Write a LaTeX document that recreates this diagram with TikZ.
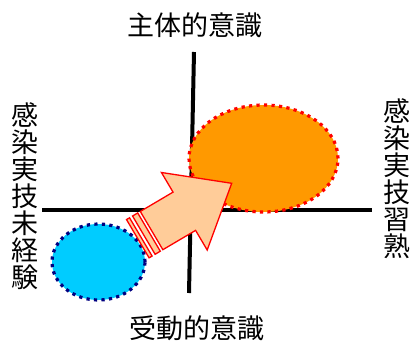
\documentclass[tikz,border=0pt]{standalone}
\usepackage{fontspec}
\usetikzlibrary{shapes.geometric}
\newfontfamily\cjk{Noto Sans CJK JP}
\definecolor{orangefill}{RGB}{255,153,0}
\definecolor{cyanfill}{RGB}{0,204,255}
\definecolor{navydot}{RGB}{0,0,128}
\definecolor{peach}{RGB}{255,204,153}
\tikzset{
  axisline/.style={line width=4pt},
  lbl/.style={font=\cjk\fontsize{27}{27}\selectfont, inner sep=0pt, anchor=center},
  dotborder/.style={line width=3.2pt, dash pattern=on 3.2pt off 4.3pt},
  blob/.style={ellipse, inner sep=0pt, dotborder},
  arrowpart/.style={draw=red, fill=peach, line width=1.3pt, line join=miter}
}
\begin{document}
\begin{tikzpicture}[x=1pt,y=-1pt]
\useasboundingbox (0,0) rectangle (410,341);
% axes
\coordinate (vtop) at (194,52);
\coordinate (vbot) at (189,293);
\coordinate (hl) at (42,209.7);
\coordinate (hr) at (372,209.7);
\draw[axisline] (vtop) -- (vbot);
\draw[axisline] (hl) -- (hr);
% labels
\node[lbl] (top) at (195,25) {主体的意識};
\node[lbl] (bot) at (197,328) {受動的意識};
\node[lbl, align=center] (left) at (24.5,196.5) {\baselineskip=28.7pt 感\\染\\実\\技\\未\\経\\験};
\node[lbl, align=center] (right) at (397,178.6) {\baselineskip=28.7pt 感\\染\\実\\技\\習\\熟};
% ellipses
\node[blob, draw=red, fill=orangefill, minimum width=149pt, minimum height=107pt] (o) at (263.5,158.5) {};
\node[blob, draw=navydot, fill=cyanfill, minimum width=93pt, minimum height=76pt] (b) at (98.5,262) {};
% striped arrow
\begin{scope}[shift={(137.8,238.7)}, x={(0.8615pt,0.5083pt)}, y={(-0.5083pt,0.8615pt)}]
  \draw[arrowpart] (0,-22.2) -- (3.5,-22.2) -- (3.5,22.2) -- (0,22.2) -- cycle;
  \draw[arrowpart] (7,-22.2) -- (13,-22.2) -- (13,22.2) -- (7,22.2) -- cycle;
  \draw[arrowpart] (16,-22.2) -- (54,-22.2) -- (54,-45) -- (109,0) -- (54,45) -- (54,22.2) -- (16,22.2) -- cycle;
\end{scope}
\end{tikzpicture}
\end{document}
